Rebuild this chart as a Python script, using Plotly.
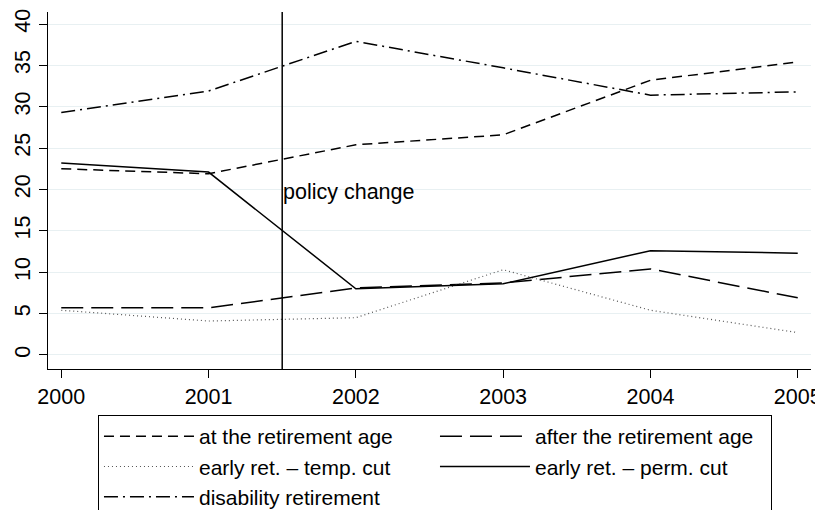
import plotly.graph_objects as go

years = [2000, 2001, 2002, 2003, 2004, 2005]
at_age = [22.5, 21.9, 25.4, 26.6, 33.2, 35.4]
after_age = [5.7, 5.7, 8.1, 8.7, 10.4, 6.9]
early_temp = [5.4, 4.1, 4.5, 10.3, 5.4, 2.7]
early_perm = [23.2, 22.1, 8.0, 8.6, 12.6, 12.3]
disability = [29.3, 31.9, 37.9, 34.7, 31.4, 31.8]
y_ticks = [0, 5, 10, 15, 20, 25, 30, 35, 40]
policy_year = 2001.5
policy_label = "policy change"

series = [
    ("at the retirement age", at_age, "10px,6px", "black", 1.5),
    ("after the retirement age", after_age, "22px,8px", "black", 1.5),
    ("early ret. – temp. cut", early_temp, "1px,3px", "#555555", 1.2),
    ("early ret. – perm. cut", early_perm, "solid", "black", 1.5),
    ("disability retirement", disability, "14px,5px,2px,5px", "black", 1.5),
]

fig = go.Figure()
for name, vals, dash, color, w in series:
    fig.add_trace(go.Scatter(x=years, y=vals, mode="lines", name=name,
                             line=dict(color=color, width=w, dash=dash)))

fig.add_shape(type="line", xref="x", yref="paper", x0=policy_year, x1=policy_year,
              y0=0, y1=1, line=dict(color="black", width=1.5))
fig.add_annotation(x=policy_year, y=19.7, xref="x", yref="y", text=policy_label,
                   showarrow=False, xanchor="left", yanchor="middle", xshift=-1,
                   font=dict(size=21.5, color="black"))

fig.update_layout(
    width=815, height=502,
    margin=dict(l=40, r=12, t=4, b=141, autoexpand=False),
    paper_bgcolor="white", plot_bgcolor="white",
    font=dict(family="Liberation Sans, Arial, sans-serif", size=21.5, color="black"),
    showlegend=True,
    legend=dict(orientation="h", x=0.0655, y=-0.129, xanchor="left", yanchor="top",
                bordercolor="black", borderwidth=1, entrywidth=231, itemwidth=90,
                font=dict(size=21), tracegroupgap=0, bgcolor="white"),
)
fig.update_xaxes(range=[1999.91, 2005.09], tickvals=years, ticks="outside", ticklen=8,
                 tickcolor="black", showline=True, linecolor="black", linewidth=1,
                 showgrid=False, zeroline=False, tickfont=dict(size=21.5))
fig.update_yaxes(range=[-1.7, 41.45], tickvals=y_ticks, ticks="outside", ticklen=8,
                 tickcolor="black", showline=True, linecolor="black", linewidth=1,
                 showgrid=True, gridcolor="#e8f0f2", gridwidth=1, zeroline=False,
                 tickangle=-90, tickfont=dict(size=21.5))

fig.write_html("out.html")
